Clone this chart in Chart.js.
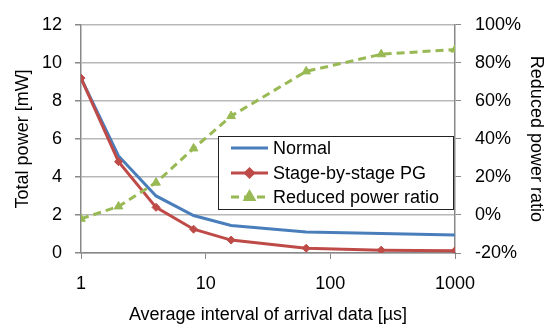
<!DOCTYPE html>
<html>
<head>
<meta charset="utf-8">
<script src="https://cdn.jsdelivr.net/npm/chart.js@4/dist/chart.umd.min.js"></script>
<style>
  html, body { margin: 0; padding: 0; background: #fff; }
  #wrap { width: 555px; height: 328px; }
</style>
</head>
<body>
<div id="wrap"><canvas id="powerChart" width="555" height="328"></canvas></div>
<script>
const intervals = [1, 2, 4, 8, 16, 64, 256, 1000];
const normalPower = [9.2, 5.1, 3.0, 1.97, 1.45, 1.1, 1.02, 0.95];
const stagePower = [9.2, 4.8, 2.4, 1.25, 0.68, 0.25, 0.15, 0.12];
const reducedRatio = [-2, 4.5, 17, 35, 52, 75.5, 84.5, 87];
const xTickValues = [1, 10, 100, 1000];

const FONT = "'Liberation Sans', Arial, sans-serif";
const FSIZE = 18;
const toPoints = vals => intervals.map((x, i) => ({ x: x, y: vals[i] }));

// legend drawn inside plot area, as in the original figure
const boxLegend = {
    id: 'boxLegend',
    afterDraw(chart) {
        const ctx = chart.ctx;
        const x0 = 218, y0 = 136, w = 235, h = 73;
        ctx.save();
        ctx.fillStyle = '#fff';
        ctx.fillRect(x0, y0, w, h);
        ctx.strokeStyle = '#222';
        ctx.lineWidth = 1;
        ctx.strokeRect(x0 + 0.5, y0 + 0.5, w, h);
        const rows = [148, 173, 197];
        chart.data.datasets.forEach((ds, i) => {
            const y = rows[i];
            ctx.strokeStyle = ds.borderColor;
            ctx.lineWidth = ds.borderWidth;
            ctx.setLineDash(ds.borderDash || []);
            ctx.beginPath();
            ctx.moveTo(231, y);
            ctx.lineTo(268, y);
            ctx.stroke();
            ctx.setLineDash([]);
            if (ds.pointRadius > 0) {
                Chart.helpers.drawPoint(ctx, {
                    pointStyle: ds.pointStyle,
                    radius: ds.pointRadius,
                    borderWidth: 1
                }, 249.5, y);
                ctx.fillStyle = ds.backgroundColor;
                ctx.fill();
            }
            ctx.fillStyle = '#000';
            ctx.font = FSIZE + 'px ' + FONT;
            ctx.textBaseline = 'middle';
            ctx.fillText(ds.label, 273, y + 1);
        });
        ctx.restore();
    }
};

new Chart(document.getElementById('powerChart').getContext('2d'), {
    type: 'line',
    data: {
        datasets: [
            {
                label: 'Normal',
                data: toPoints(normalPower),
                yAxisID: 'y',
                borderColor: '#4a7ebb',
                backgroundColor: '#4a7ebb',
                borderWidth: 3,
                pointRadius: 0,
                order: 2
            },
            {
                label: 'Stage-by-stage PG',
                data: toPoints(stagePower),
                yAxisID: 'y',
                borderColor: '#be4b48',
                backgroundColor: '#be4b48',
                borderWidth: 3,
                pointStyle: 'rectRot',
                pointRadius: 4,
                pointBorderWidth: 1,
                order: 1
            },
            {
                label: 'Reduced power ratio',
                data: toPoints(reducedRatio),
                yAxisID: 'y2',
                borderColor: '#98b954',
                backgroundColor: '#98b954',
                borderWidth: 3,
                borderDash: [8, 5],
                pointStyle: 'triangle',
                pointRadius: 5,
                pointBorderWidth: 1,
                order: 0
            }
        ]
    },
    options: {
        responsive: false,
        animation: false,
        layout: { padding: { top: 14, left: 0, right: 0, bottom: 0 } },
        plugins: {
            legend: { display: false },
            tooltip: { enabled: false }
        },
        elements: { line: { tension: 0 } },
        scales: {
            x: {
                type: 'logarithmic',
                min: 1,
                max: 1000,
                afterBuildTicks: axis => { axis.ticks = xTickValues.map(v => ({ value: v })); },
                afterFit: axis => { axis.height = 75; },
                ticks: {
                    color: '#000',
                    font: { family: FONT, size: FSIZE },
                    padding: 14,
                    maxRotation: 0,
                    callback: v => String(v)
                },
                grid: { drawOnChartArea: false, tickLength: 6, color: '#888' },
                border: { color: '#888', width: 1.5 },
                title: {
                    display: true,
                    text: 'Average interval of arrival data [µs]',
                    color: '#000',
                    font: { family: FONT, size: FSIZE },
                    padding: { top: 3, bottom: 2 }
                }
            },
            y: {
                position: 'left',
                min: 0,
                max: 12,
                afterFit: axis => { axis.width = 81; },
                ticks: {
                    stepSize: 2,
                    color: '#000',
                    font: { family: FONT, size: FSIZE },
                    padding: 13
                },
                grid: { color: '#b8b8b8', lineWidth: 1.5, tickLength: 6, tickColor: '#888' },
                border: { color: '#888', width: 1.5 },
                title: {
                    display: true,
                    text: 'Total power [mW]',
                    color: '#000',
                    font: { family: FONT, size: FSIZE },
                    padding: { top: 12, bottom: 4 }
                }
            },
            y2: {
                position: 'right',
                min: -20,
                max: 100,
                afterFit: axis => { axis.width = 100; },
                ticks: {
                    stepSize: 20,
                    color: '#000',
                    font: { family: FONT, size: FSIZE },
                    padding: 14,
                    callback: v => v + '%'
                },
                grid: { drawOnChartArea: false, tickLength: 6, color: '#888' },
                border: { color: '#888', width: 1.5 },
                title: {
                    display: true,
                    text: 'Reduced power ratio',
                    color: '#000',
                    font: { family: FONT, size: FSIZE },
                    padding: { top: 8, bottom: 4 }
                }
            }
        }
    },
    plugins: [boxLegend]
});
</script>
</body>
</html>
